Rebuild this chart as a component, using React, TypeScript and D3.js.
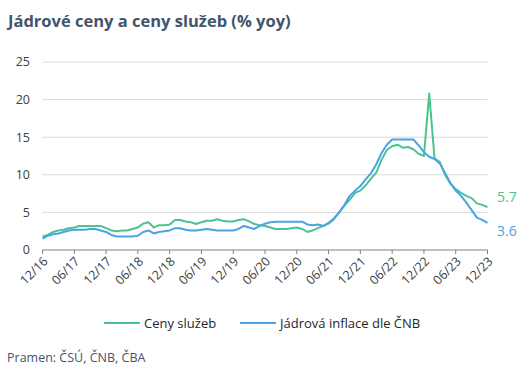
import React from 'react'
import * as d3 from 'd3'

const W = 523
const H = 374

// monthly, 12/2016 .. 12/2023
const services = [
    1.8, 2.0, 2.4, 2.6, 2.7, 2.9, 3.0, 3.2, 3.2, 3.2, 3.2, 3.2,
    2.9, 2.6, 2.5, 2.6, 2.6, 2.8, 3.0, 3.5, 3.7, 3.0, 3.3, 3.3,
    3.4, 4.0, 4.0, 3.8, 3.7, 3.45, 3.7, 3.9, 3.9, 4.1, 3.9, 3.8,
    3.8, 4.0, 4.1, 3.8, 3.45, 3.3, 3.2, 3.0, 2.8, 2.8, 2.8, 2.9,
    3.0, 2.8, 2.4, 2.6, 2.9, 3.2, 3.5, 4.1, 5.0, 5.9, 6.7, 7.6,
    7.9, 8.6, 9.5, 10.3, 12.0, 13.3, 13.8, 14.0, 13.6, 13.7, 13.4, 12.8,
    12.5, 20.8, 12.2, 11.7, 10.0, 8.8, 8.1, 7.6, 7.2, 6.9, 6.2, 6.0,
    5.7,
]
const coreCnb = [
    1.5, 1.9, 2.1, 2.2, 2.4, 2.6, 2.7, 2.7, 2.7, 2.8, 2.8, 2.6,
    2.4, 2.0, 1.8, 1.8, 1.8, 1.8, 1.9, 2.4, 2.6, 2.2, 2.4, 2.5,
    2.6, 2.9, 2.9, 2.7, 2.6, 2.6, 2.7, 2.8, 2.7, 2.6, 2.6, 2.6,
    2.6, 2.8, 3.2, 3.0, 2.8, 3.2, 3.5, 3.7, 3.77, 3.77, 3.77, 3.77,
    3.77, 3.77, 3.4, 3.3, 3.4, 3.2, 3.6, 4.2, 5.0, 6.0, 7.2, 7.9,
    8.5, 9.4, 10.2, 11.4, 12.9, 14.0, 14.7, 14.7, 14.7, 14.7, 14.7, 13.9,
    13.0, 12.4, 12.1, 11.5, 10.2, 8.9, 7.9, 7.2, 6.3, 5.3, 4.3, 4.0,
    3.6,
]
const xTickLabels = [
    '12/16', '06/17', '12/17', '06/18', '12/18', '06/19', '12/19', '06/20',
    '12/20', '06/21', '12/21', '06/22', '12/22', '06/23', '12/23',
]
const yTicks = [0, 5, 10, 15, 20, 25]

const GREEN = '#4cc38f'
const BLUE = '#4aa3e6'
const FONT = "'Open Sans', 'Noto Sans', sans-serif"

export default function App() {
    const x = d3.scaleLinear().domain([0, services.length - 1]).range([42.5, 487.5])
    const y = d3.scaleLinear().domain([0, 25]).range([250, 62])

    const line = d3.line<number>()
        .x((_, i) => x(i))
        .y(d => y(d))

    const last = services.length - 1

    return (
        <svg width={W} height={H} style={{ position: 'absolute', left: 0, top: 0, background: '#fff' }} fontFamily={FONT}>
            <text x={8} y={27} fontSize={16.5} fontWeight={700} fill="#44546a">Jádrové ceny a ceny služeb (% yoy)</text>

            {/* grid + y labels */}
            {yTicks.map(t => (
                <g key={t}>
                    {t > 0 && <line x1={x(0)} x2={x(last)} y1={y(t)} y2={y(t)} stroke="#d9d9d9" strokeWidth={1} />}
                    <text x={30} y={y(t)} dy="0.35em" textAnchor="end" fontSize={12.5} fill="#404040">{t}</text>
                </g>
            ))}

            {/* x axis */}
            <line x1={x(0)} x2={x(last)} y1={y(0)} y2={y(0)} stroke="#808080" strokeWidth={1} />
            {xTickLabels.map((lab, k) => {
                const px = x(k * 6)
                return (
                    <g key={lab}>
                        <line x1={px} x2={px} y1={y(0)} y2={y(0) + 4} stroke="#808080" />
                        <text transform={`translate(${px + 3},${y(0) + 9}) rotate(-45)`} textAnchor="end" dy="0.35em" fontSize={12.5} fill="#404040">{lab}</text>
                    </g>
                )
            })}

            <path d={line(services) || ''} fill="none" stroke={GREEN} strokeWidth={2} strokeLinejoin="round" />
            <path d={line(coreCnb) || ''} fill="none" stroke={BLUE} strokeWidth={2} strokeLinejoin="round" />

            <text x={497} y={197} dy="0.35em" fontSize={14} fill={GREEN}>{d3.format('.1f')(services[last])}</text>
            <text x={497} y={231} dy="0.35em" fontSize={14} fill={BLUE}>{d3.format('.1f')(coreCnb[last])}</text>

            {/* legend */}
            <line x1={104} x2={140} y1={323} y2={323} stroke={GREEN} strokeWidth={2} />
            <text x={144} y={323} dy="0.35em" fontSize={13} fill="#262626">Ceny služeb</text>
            <line x1={240} x2={276} y1={323} y2={323} stroke={BLUE} strokeWidth={2} />
            <text x={280} y={323} dy="0.35em" fontSize={13} fill="#262626">Jádrová inflace dle ČNB</text>

            <text x={7} y={362} fontSize={12.5} fill="#44546a">Pramen: ČSÚ, ČNB, ČBA</text>
        </svg>
    )
}
